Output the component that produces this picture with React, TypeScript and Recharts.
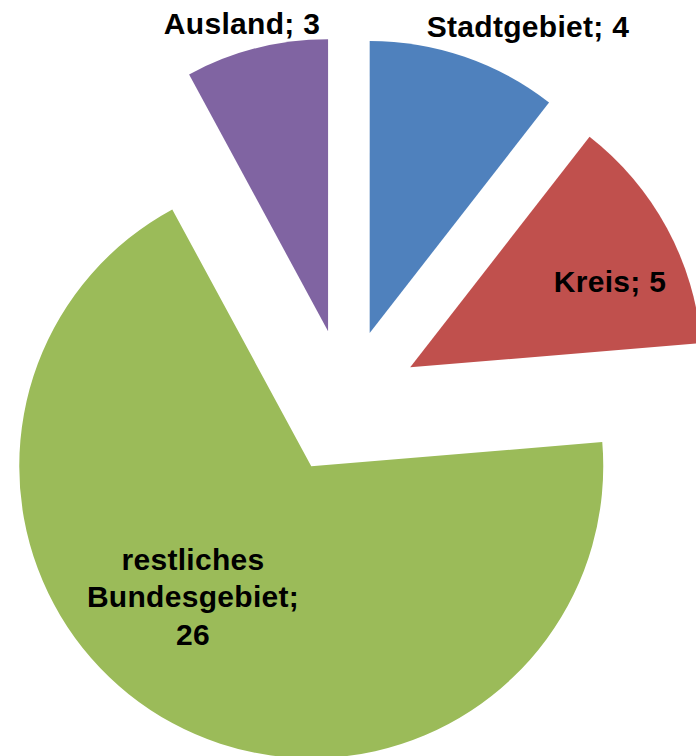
import React from 'react';
import { PieChart, Pie, Cell } from 'recharts';

const categories = ['Stadtgebiet', 'Kreis', 'restliches Bundesgebiet', 'Ausland'];
const values = [4, 5, 26, 3];
const colors = ['#4F81BD', '#C0504D', '#9BBB59', '#8064A2'];

const data = categories.map((name, i) => ({ name, value: values[i] }));

// label anchor points (centre of the text block)
const labelPos: Record<string, [number, number]> = {
  Stadtgebiet: [528, 26],
  Kreis: [610, 281],
  'restliches Bundesgebiet': [193, 596],
  Ausland: [242, 23],
};
const labelLines: Record<string, string[]> = {
  'restliches Bundesgebiet': ['restliches', 'Bundesgebiet;', '26'],
};

const CX = 341;
const CY = 397;
const RADIUS = 292;
const EXPLODE = 73;
const FONT = '"Liberation Sans", Arial, sans-serif';

const total = values.reduce((a, b) => a + b, 0);

const offsets = values.map((v, i) => {
  const before = values.slice(0, i).reduce((a, b) => a + b, 0);
  const mid = 90 - ((before + v / 2) / total) * 360;
  const rad = (mid * Math.PI) / 180;
  return { dx: EXPLODE * Math.cos(rad), dy: -EXPLODE * Math.sin(rad) };
});

const renderLabel = (k: number) => (props: any) => {
  if (props.index !== k) return null;
  const name = categories[k];
  const [x, y] = labelPos[name];
  const lines = labelLines[name] ?? [`${name}; ${values[k]}`];
  const lh = 37.5;
  const y0 = y - ((lines.length - 1) * lh) / 2;
  return (
    <text
      x={x}
      y={y0}
      textAnchor="middle"
      dominantBaseline="central"
      fontFamily={FONT}
      fontWeight="bold"
      fontSize={30}
      letterSpacing={0.3}
      fill="#000"
    >
      {lines.map((l, j) => (
        <tspan key={j} x={x} y={y0 + j * lh}>
          {l}
        </tspan>
      ))}
    </text>
  );
};

export default function App() {
  return (
    <div style={{ position: 'absolute', left: 0, top: 0, background: '#fff' }}>
      <PieChart width={696} height={756}>
        {categories.map((_, k) => (
          <Pie
            key={k}
            data={data}
            dataKey="value"
            nameKey="name"
            cx={CX + offsets[k].dx}
            cy={CY + offsets[k].dy}
            outerRadius={RADIUS}
            startAngle={90}
            endAngle={-270}
            stroke="none"
            label={renderLabel(k)}
            labelLine={false}
            isAnimationActive={false}
          >
            {data.map((_, i) => (
              <Cell key={i} fill={i === k ? colors[i] : 'transparent'} stroke="none" />
            ))}
          </Pie>
        ))}
      </PieChart>
    </div>
  );
}
